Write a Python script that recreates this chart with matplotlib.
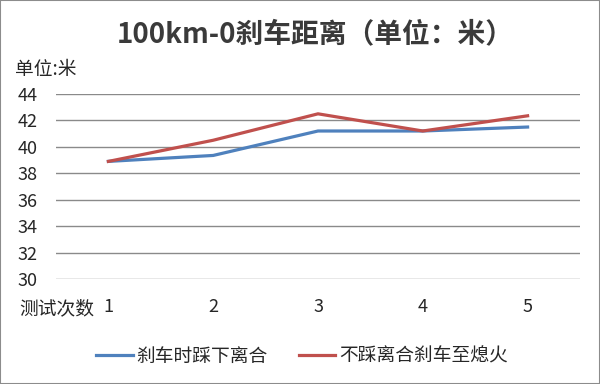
import matplotlib

matplotlib.use("Agg")
import matplotlib.pyplot as plt
from matplotlib.lines import Line2D
from matplotlib.patches import Rectangle

plt.rcParams["font.family"] = ["Noto Sans CJK SC", "DejaVu Sans"]

runs = ["1", "2", "3", "4", "5"]
clutch_pressed = [38.9, 39.35, 41.2, 41.2, 41.5]
no_clutch = [38.9, 40.5, 42.5, 41.2, 42.35]
series_names = ["刹车时踩下离合", "不踩离合刹车至熄火"]
y_ticks = [30, 32, 34, 36, 38, 40, 42, 44]

blue = "#4F81BD"
red = "#C0504D"
text_color = "#262626"

figure = plt.figure(figsize=(6, 3.84), dpi=100)
figure.patches.append(Rectangle((0, 0), 1, 1, transform=figure.transFigure,
                                fill=False, edgecolor="#8c8c8c", linewidth=1.5))
axis = figure.add_axes([56 / 600, 1 - 279 / 384, 524 / 600, 185 / 384])

positions = list(range(len(runs)))
axis.plot(positions, clutch_pressed, color=blue, linewidth=2.3, solid_joinstyle="miter")
axis.plot(positions, no_clutch, color=red, linewidth=2.3, solid_joinstyle="miter")

axis.set_xlim(-0.5, len(runs) - 0.5)
axis.set_ylim(30, 44)
axis.set_yticks(y_ticks)
axis.set_yticklabels([str(t) for t in y_ticks], fontsize=13, color=text_color)
axis.set_xticks(positions)
axis.set_xticklabels(runs, fontsize=13, color=text_color)
axis.tick_params(axis="both", length=0)
axis.tick_params(axis="y", pad=13)
axis.tick_params(axis="x", pad=14)
axis.grid(axis="y", color="#8a8a8a", linewidth=1.0)
axis.set_axisbelow(True)
for spine in axis.spines.values():
    spine.set_visible(False)

figure.text(315 / 600, 1 - 34 / 384, "100km-0刹车距离（单位：米）", ha="center", va="center",
            fontsize=20, fontweight="bold", color="#3a3a3a")
figure.text(15 / 600, 1 - 70 / 384, "单位:米", ha="left", va="center",
            fontsize=13.5, color=text_color)
figure.text(19 / 600, 1 - 309 / 384, "测试次数", ha="left", va="center",
            fontsize=13.5, color=text_color)

handles = [Line2D([], [], color=blue, linewidth=2.3),
           Line2D([], [], color=red, linewidth=2.3)]
figure.legend(handles, series_names, loc="center", bbox_to_anchor=(302 / 600, 1 - 356 / 384),
              ncol=2, frameon=False, fontsize=13.5, handlelength=1.95, columnspacing=1.65,
              handletextpad=0.2, labelcolor=text_color, borderpad=0, borderaxespad=0)

figure.savefig("out.png", dpi=100)
plt.close(figure)
